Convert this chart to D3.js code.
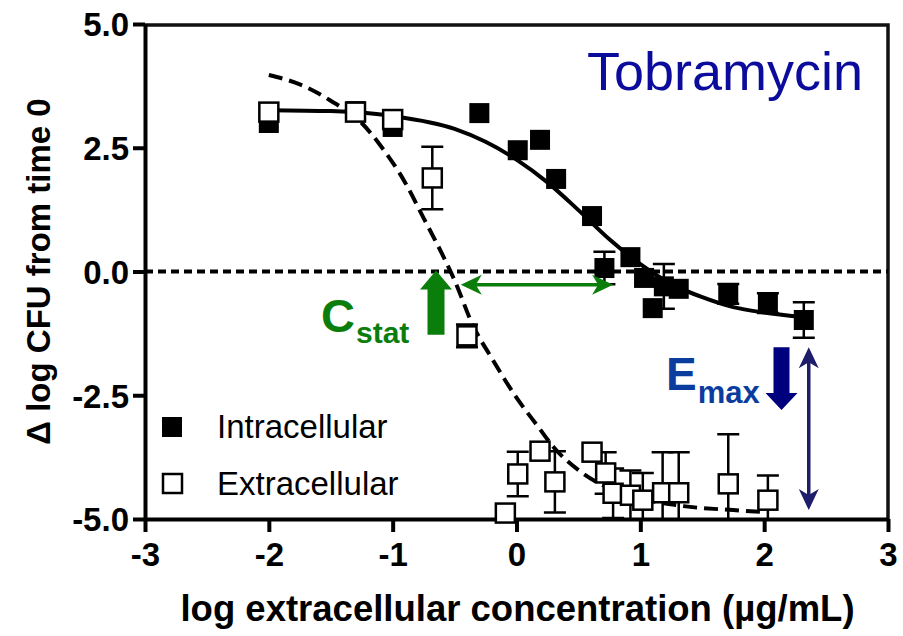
<!DOCTYPE html>
<html><head><meta charset="utf-8">
<script src="https://cdn.jsdelivr.net/npm/d3@7"></script>
<style>body{margin:0;background:#fff}svg{display:block}</style>
</head><body>
<svg id="chart" width="903" height="636"></svg>
<script>
// ---- data ----
const xTicks = [-3, -2, -1, 0, 1, 2, 3];
const yTicks = [-5, -2.5, 0, 2.5, 5];
const seriesNames = ["Intracellular", "Extracellular"];

const intraX   = [-2.0, -1.3, -1.0, -0.3, 0.01, 0.19, 0.32, 0.61, 0.71, 0.92, 1.03, 1.10, 1.19, 1.31, 1.71, 2.03, 2.32];
const intraY   = [3.00, 3.24, 2.92, 3.20, 2.45, 2.66, 1.87, 1.12, 0.07, 0.29, -0.13, -0.74, -0.30, -0.35, -0.45, -0.64, -0.98];
const intraErr = [0, 0, 0, 0, 0, 0, 0, 0, 0.33, 0, 0, 0, 0.45, 0, 0.2, 0.2, 0.36];

const extraX   = [-2.0, -1.3, -1.0, -0.68, -0.40, -0.09, 0.01, 0.19, 0.31, 0.61, 0.72, 0.78, 0.92, 1.02, 1.18, 1.31, 1.71, 2.03];
const extraY   = [3.22, 3.22, 3.07, 1.89, -1.30, -4.88, -4.09, -3.63, -4.25, -3.65, -4.07, -4.48, -4.52, -4.62, -4.47, -4.47, -4.29, -4.62];
const extraErr = [0, 0, 0, 0.63, 0.23, 0, 0.45, 0, 0.62, 0, 0.42, 0.5, 0.5, 0.55, 0.82, 0.82, 1.0, 0.5];

// fitted curves, points
const intraFitX = [-2.0, -1.5, -1.0, -0.5, -0.25, 0.0, 0.25, 0.5, 0.75, 1.0, 1.25, 1.5, 1.75, 2.0, 2.3];
const intraFitY = [3.26, 3.24, 3.14, 2.88, 2.62, 2.26, 1.80, 1.24, 0.65, 0.15, -0.25, -0.52, -0.72, -0.83, -0.92];
const extraFitX = [-2.0, -1.75, -1.5, -1.25, -1.1, -0.9, -0.75, -0.6, -0.5, -0.35, -0.2, 0.0, 0.17, 0.3, 0.52, 0.75, 0.95, 1.35, 1.75, 2.0];
const extraFitY = [3.97, 3.78, 3.45, 3.0, 2.55, 1.8, 1.08, 0.35, -0.18, -1.1, -1.75, -2.55, -3.12, -3.55, -4.05, -4.38, -4.55, -4.74, -4.82, -4.86];

// ---- drawing ----
const W = 903, H = 636;
const m = {left: 145, right: 15, top: 24, bottom: 117};
const svg = d3.select("#chart");
const x = d3.scaleLinear().domain([-3, 3]).range([m.left, W - m.right]);
const y = d3.scaleLinear().domain([-5, 5]).range([H - m.bottom, m.top]);
const FONT = "'Liberation Sans', Arial, Helvetica, sans-serif";

svg.append("defs").append("clipPath").attr("id", "plot")
  .append("rect").attr("x", x(-3)).attr("y", y(5)).attr("width", x(3) - x(-3)).attr("height", y(-5) - y(5));

// frame (top & right)
svg.append("path")
  .attr("d", `M${x(-3)},${y(5) + 1}H${x(3)}V${y(-5)}`)
  .attr("fill", "none").attr("stroke", "#111").attr("stroke-width", 3.5);

// zero line
svg.append("line")
  .attr("x1", x(-3)).attr("x2", x(3)).attr("y1", y(0)).attr("y2", y(0))
  .attr("stroke", "#000").attr("stroke-width", 4).attr("stroke-dasharray", "8,5");

// axes
const yAxis = d3.axisLeft(y).tickValues(yTicks).tickFormat(d => d.toFixed(1)).tickSize(12).tickSizeOuter(0).tickPadding(4);
const xAxis = d3.axisBottom(x).tickValues(xTicks).tickFormat(d => String(d)).tickSize(13).tickSizeOuter(0).tickPadding(10);

const gy = svg.append("g").attr("transform", `translate(${x(-3)},0)`).call(yAxis);
const gx = svg.append("g").attr("transform", `translate(0,${y(-5)})`).call(xAxis);
[gx, gy].forEach(g => {
  g.select(".domain").attr("stroke", "#000").attr("stroke-width", 4);
  g.selectAll(".tick line").attr("stroke", "#000").attr("stroke-width", 4);
  g.selectAll(".tick text").attr("fill", "#000").style("font-family", FONT)
    .style("font-weight", "bold").style("font-size", "33px");
});
gy.selectAll(".tick text").attr("dy", "0.36em");
gx.selectAll(".tick text").attr("dy", "0.72em");

// axis titles
svg.append("text").attr("x", (x(-3) + x(3)) / 2 + 1).attr("y", 621)
  .attr("text-anchor", "middle").style("font-family", FONT).style("font-weight", "bold")
  .style("font-size", "36.5px").text("log extracellular concentration (µg/mL)");
svg.append("text").attr("transform", `translate(50,${y(0)}) rotate(-90)`)
  .attr("text-anchor", "middle").style("font-family", FONT).style("font-weight", "bold")
  .style("font-size", "33px").text("Δ log CFU from time 0");

// fitted curves
const plot = svg.append("g").attr("clip-path", "url(#plot)");
const line = d3.line().x(d => x(d[0])).y(d => y(d[1])).curve(d3.curveMonotoneX);
plot.append("path").datum(d3.zip(extraFitX, extraFitY)).attr("d", line)
  .attr("fill", "none").attr("stroke", "#000").attr("stroke-width", 4).attr("stroke-dasharray", "14,7");
plot.append("path").datum(d3.zip(intraFitX, intraFitY)).attr("d", line)
  .attr("fill", "none").attr("stroke", "#000").attr("stroke-width", 4);

// error bars
const intra = intraX.map((v, i) => ({x: v, y: intraY[i], e: intraErr[i]}));
const extra = extraX.map((v, i) => ({x: v, y: extraY[i], e: extraErr[i]}));
function errBars(data) {
  const g = plot.append("g").attr("stroke", "#000").attr("stroke-width", 2.5).attr("fill", "none");
  data.filter(d => d.e > 0).forEach(d => {
    const cx = x(d.x), t = y(d.y + d.e), b = y(d.y - d.e);
    g.append("path").attr("d", `M${cx},${t}V${b}M${cx - 11},${t}H${cx + 11}M${cx - 11},${b}H${cx + 11}`);
  });
}
errBars(intra);
errBars(extra);

// markers
svg.append("g").selectAll("rect").data(intra).join("rect")
  .attr("x", d => x(d.x) - 10).attr("y", d => y(d.y) - 10).attr("width", 20).attr("height", 20)
  .attr("fill", "#000");
svg.append("g").selectAll("rect").data(extra).join("rect")
  .attr("x", d => x(d.x) - 9.5).attr("y", d => y(d.y) - 9.5).attr("width", 19).attr("height", 19)
  .attr("fill", "#fff").attr("stroke", "#000").attr("stroke-width", 2.5);

// legend
const leg = svg.append("g");
leg.append("rect").attr("x", 162).attr("y", 417).attr("width", 20).attr("height", 20).attr("fill", "#000");
leg.append("rect").attr("x", 163).attr("y", 474).attr("width", 19).attr("height", 19)
  .attr("fill", "#fff").attr("stroke", "#000").attr("stroke-width", 2.5);
leg.append("text").attr("x", 217).attr("y", 438).style("font-family", FONT).style("font-size", "33px").text(seriesNames[0]);
leg.append("text").attr("x", 217).attr("y", 495).style("font-family", FONT).style("font-size", "33px").text(seriesNames[1]);

// title
svg.append("text").attr("x", 587).attr("y", 90).style("font-family", FONT).style("font-size", "54px")
  .attr("fill", "#0c0c9c").text("Tobramycin");

// ---- annotations ----
const GREEN = "#0b7d0b";
const ct = svg.append("text").attr("x", 321).attr("y", 332).attr("fill", GREEN)
  .style("font-family", FONT).style("font-weight", "bold");
ct.append("tspan").style("font-size", "47px").text("C");
ct.append("tspan").attr("y", 343).attr("dx", 1).style("font-size", "30px").text("stat");

function blockArrow(cx, tipY, baseY, headLen, headHalf, shaftHalf, dir, color) {
  const hb = tipY + dir * headLen;
  svg.append("path").attr("fill", color).attr("d",
    `M${cx},${tipY}L${cx + headHalf},${hb}L${cx + shaftHalf},${hb}L${cx + shaftHalf},${baseY}` +
    `L${cx - shaftHalf},${baseY}L${cx - shaftHalf},${hb}L${cx - headHalf},${hb}Z`);
}
blockArrow(x(-0.65), y(0.02), y(-1.28), 19, 16, 8.5, 1, GREEN);

function headPath(tx, ty, ang) {
  const pts = [[0, 0], [-21, -10], [-15, 0], [-21, 10]].map(([a, b]) =>
    [tx + a * Math.cos(ang) - b * Math.sin(ang), ty + a * Math.sin(ang) + b * Math.cos(ang)]);
  return "M" + pts.map(p => p.join(",")).join("L") + "Z";
}
function doubleArrow(x1, y1, x2, y2, color) {
  const ang = Math.atan2(y2 - y1, x2 - x1);
  const g = svg.append("g");
  const ux = Math.cos(ang), uy = Math.sin(ang);
  g.append("line").attr("x1", x1 + ux * 12).attr("y1", y1 + uy * 12).attr("x2", x2 - ux * 12).attr("y2", y2 - uy * 12)
    .attr("stroke", color).attr("stroke-width", 3.5);
  g.append("path").attr("d", headPath(x2, y2, ang)).attr("fill", color);
  g.append("path").attr("d", headPath(x1, y1, ang + Math.PI)).attr("fill", color);
}
doubleArrow(x(-0.45), y(-0.27), x(0.78), y(-0.27), GREEN);

const et = svg.append("text").attr("x", 666).attr("y", 390).attr("fill", "#0b3d9f")
  .style("font-family", FONT).style("font-weight", "bold");
et.append("tspan").style("font-size", "46px").text("E");
et.append("tspan").attr("y", 403).attr("dx", 1).style("font-size", "31px").text("max");

blockArrow(x(2.14), y(-2.80), y(-1.53), 17, 16, 8, -1, "#00007f");
doubleArrow(x(2.36), y(-1.53), x(2.36), y(-4.82), "#1d1d6b");
</script>
</body></html>
